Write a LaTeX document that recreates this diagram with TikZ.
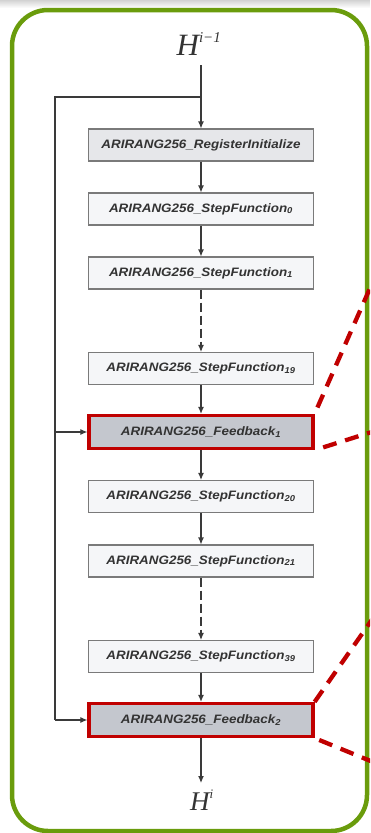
\documentclass[tikz,border=0pt]{standalone}
\usepackage{fontspec}
\setmainfont{Liberation Serif}
\newfontfamily\boxfont[FakeStretch=1.1]{Liberation Sans}
\usetikzlibrary{arrows.meta,calc}
\definecolor{framegreen}{HTML}{6A9C0C}
\definecolor{fbred}{HTML}{C00000}
\definecolor{linegray}{HTML}{3A3A3A}
\definecolor{boxgray}{HTML}{7A7A7A}
\definecolor{stepfill}{HTML}{F5F6F8}
\definecolor{initfill}{HTML}{E6E7EA}
\definecolor{fbfill}{HTML}{C4C7CE}
\tikzset{
  stepbox/.style={draw=boxgray, line width=1.1pt, fill=stepfill, minimum width=225pt, minimum height=32pt,
    inner sep=0pt, text=black!80, font=\boxfont\bfseries\itshape\fontsize{12.2}{14}\selectfont},
  initbox/.style={stepbox, fill=initfill},
  fbbox/.style={stepbox, draw=fbred, line width=3.2pt, fill=fbfill, minimum width=224pt, minimum height=33pt},
  flow/.style={draw=linegray, line width=1.1pt, -{Latex[length=7pt,width=6pt]}},
  flowdash/.style={flow, dash pattern=on 9pt off 4pt},
  plain/.style={draw=linegray, line width=1.1pt},
  zoomline/.style={draw=fbred, line width=4.3pt, dash pattern=on 14pt off 9pt},
  hlabel/.style={inner sep=0pt, text=black!80}
}
\begin{document}
\begin{tikzpicture}[x=1pt,y=-1pt]
\useasboundingbox (0,0) rectangle (370,833);
\begin{scope}
\clip (0,0) rectangle (370,833);
\shade[top color=gray!35, bottom color=white] (0,0) rectangle (370,8);
\draw[framegreen, line width=4.5pt, rounded corners=36pt] (12,10) rectangle (367,831);

\node[hlabel, font=\fontsize{31}{31}\selectfont] (hin) at (199,44) {\itshape H\raisebox{4pt}{\textsuperscript{\fontsize{15}{15}\selectfont\itshape i−1}}};
\node[initbox] (reg) at (201,145) {ARIRANG256\_RegisterInitialize};
\node[stepbox] (sf0) at (201,209) {ARIRANG256\_StepFunction\textsubscript{0}};
\node[stepbox] (sf1) at (201,273) {ARIRANG256\_StepFunction\textsubscript{1}};
\node[stepbox] (sf19) at (201,368.5) {ARIRANG256\_StepFunction\textsubscript{19}};
\node[fbbox] (fb1) at (201,432) {ARIRANG256\_Feedback\textsubscript{1}};
\node[stepbox] (sf20) at (201,496.5) {ARIRANG256\_StepFunction\textsubscript{20}};
\node[stepbox] (sf21) at (201,561) {ARIRANG256\_StepFunction\textsubscript{21}};
\node[stepbox] (sf39) at (201,656.5) {ARIRANG256\_StepFunction\textsubscript{39}};
\node[fbbox] (fb2) at (201,720) {ARIRANG256\_Feedback\textsubscript{2}};
\node[hlabel, font=\fontsize{27}{27}\selectfont] (hout) at (202,800) {\itshape H\raisebox{3pt}{\textsuperscript{\fontsize{13}{13}\selectfont\itshape i}}};

\coordinate (top) at (201,65);
\coordinate (split) at (201,97);
\coordinate (lefttop) at (55,97);
\coordinate (left1) at (55,432);
\coordinate (left2) at (55,720);
\coordinate (bottom) at (201,783);

\draw[plain] (top) -- (split);
\draw[flow] (split) -- (reg.north);
\draw[plain] (split) -- (lefttop) -- (left2);
\draw[flow] (left1) -- (fb1.west);
\draw[flow] (left2) -- (fb2.west);
\draw[flow] (reg) -- (sf0);
\draw[flow] (sf0) -- (sf1);
\draw[flowdash] (sf1) -- (sf19);
\draw[flow] (sf19) -- (fb1);
\draw[flow] (fb1) -- (sf20);
\draw[flow] (sf20) -- (sf21);
\draw[flowdash] (sf21) -- (sf39);
\draw[flow] (sf39) -- (fb2);
\draw[flow] (fb2) -- (bottom);

\coordinate (z1a) at (378,270);
\coordinate (z1b) at (378,430);
\coordinate (z2a) at (378,611);
\coordinate (z2b) at (378,764);
\draw[zoomline, dash phase=16pt] (fb1.north east) -- (z1a);
\draw[zoomline, dash phase=14pt] (fb1.south east) -- (z1b);
\draw[zoomline] (fb2.north east) -- (z2a);
\draw[zoomline, dash phase=18pt] (fb2.south east) -- (z2b);
\end{scope}
\end{tikzpicture}
\end{document}
